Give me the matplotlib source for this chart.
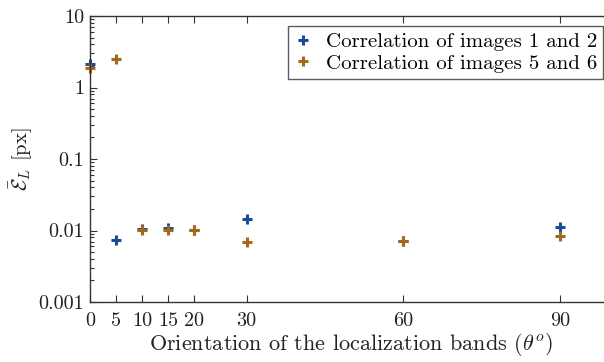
import matplotlib
matplotlib.use("Agg")
import matplotlib.pyplot as plt
from matplotlib.ticker import FixedLocator, LogLocator, NullFormatter

angles = [0, 5, 10, 15, 20, 30, 60, 90]
err_images_12 = [2.13, 0.0074, 0.0106, 0.0107, 0.0101, 0.0143, 0.0072, 0.0113]
err_images_56 = [1.89, 2.48, 0.0101, 0.0101, 0.0101, 0.0070, 0.0072, 0.0084]
labels = ["Correlation of images 1 and 2", "Correlation of images 5 and 6"]
ytick_values = [0.001, 0.01, 0.1, 1, 10]
ytick_labels = ["0.001", "0.01", "0.1", "1", "10"]

plt.rcParams["font.family"] = ["cmr10", "DejaVu Serif"]
plt.rcParams["mathtext.fontset"] = "cm"
plt.rcParams["axes.unicode_minus"] = False

fig = plt.figure(figsize=(6.04, 3.62), dpi=100)
ax = fig.add_axes([90 / 604, 1 - 302 / 362, (612 - 90) / 604, (302 - 16) / 362])

blue = "#1a4b98"
orange = "#a5681a"
ax.plot(angles, err_images_12, "+", color=blue, ms=7.5, mew=2.2, label=labels[0], clip_on=False)
ax.plot(angles, err_images_56, "+", color=orange, ms=7.5, mew=2.2, label=labels[1], clip_on=False)

ax.set_yscale("log")
ax.set_ylim(0.001, 10)
ax.set_xlim(0, 100)
ax.set_yticks(ytick_values)
ax.set_yticklabels(ytick_labels)
ax.yaxis.set_minor_locator(LogLocator(base=10, subs=range(2, 10)))
ax.yaxis.set_minor_formatter(NullFormatter())
ax.xaxis.set_major_locator(FixedLocator(angles))
ax.set_xticklabels([str(a) for a in angles])

ax.tick_params(which="both", direction="in", top=True, right=True, labelsize=14.5,
               colors="#333333", labelcolor="#222222", width=0.8)
ax.tick_params(which="major", length=5)
ax.tick_params(which="minor", length=3)
ax.tick_params(axis="x", pad=7)
ax.tick_params(axis="y", pad=4)
for spine in ax.spines.values():
    spine.set_color("#333333")
    spine.set_linewidth(1.0)

ax.set_xlabel(r"Orientation of the localization bands ($\theta^o$)", fontsize=16,
              color="#222222", labelpad=1)
ax.set_ylabel(r"$\bar{\mathcal{E}}_L$ [px]", fontsize=15, color="#222222", labelpad=3)

leg = ax.legend(loc="upper left", bbox_to_anchor=((288 - 90) / 522, 1 - 10 / 286),
                fontsize=15, frameon=True, fancybox=False, edgecolor="#333333",
                handlelength=0.8, handletextpad=0.7, borderpad=0.3, labelspacing=0.15,
                borderaxespad=0)
leg.get_frame().set_linewidth(1.0)

fig.savefig("out.png", dpi=100)
